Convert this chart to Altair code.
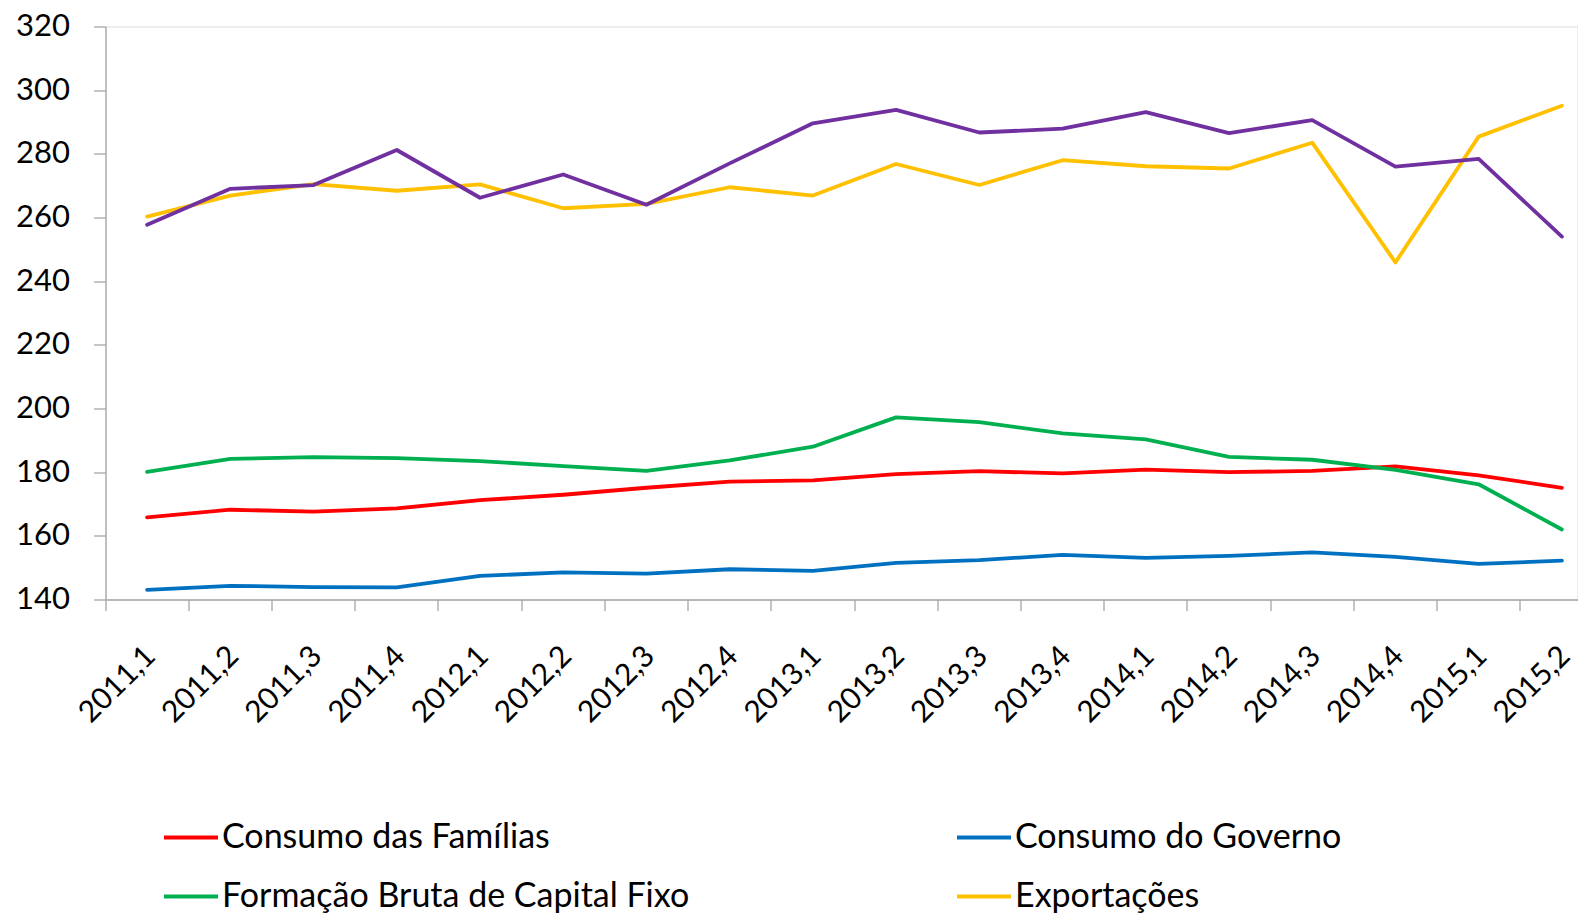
import altair as alt
import pandas as pd

quarters = ["2011,1", "2011,2", "2011,3", "2011,4", "2012,1", "2012,2", "2012,3", "2012,4",
            "2013,1", "2013,2", "2013,3", "2013,4", "2014,1", "2014,2", "2014,3", "2014,4",
            "2015,1", "2015,2"]

names = ["Consumo das Famílias", "Consumo do Governo", "Formação Bruta de Capital Fixo",
         "Exportações", "Importações"]
colors = ["#FF0000", "#0070C0", "#00B050", "#FFC000", "#7030A0"]

familias = [165.8, 168.2, 167.6, 168.6, 171.2, 172.9, 175.1, 177.0, 177.4, 179.4, 180.3, 179.6,
            180.8, 180.0, 180.4, 181.8, 179.0, 175.1]
governo = [143.0, 144.3, 143.9, 143.8, 147.4, 148.5, 148.1, 149.5, 149.0, 151.5, 152.4, 154.0,
           153.1, 153.7, 154.8, 153.4, 151.2, 152.2]
fbcf = [180.1, 184.2, 184.7, 184.4, 183.5, 181.9, 180.4, 183.7, 188.0, 197.2, 195.7, 192.2,
        190.3, 184.8, 183.9, 180.7, 176.2, 162.0]
exportacoes = [260.3, 266.9, 270.5, 268.4, 270.4, 262.9, 264.3, 269.5, 266.9, 276.8, 270.2, 278.0,
               276.1, 275.4, 283.5, 245.9, 285.4, 295.1]
importacoes = [257.7, 269.0, 270.2, 281.2, 266.2, 273.5, 264.0, 277.0, 289.6, 293.8, 286.7, 287.9,
               293.1, 286.5, 290.6, 276.0, 278.4, 254.0]

y_ticks = [140, 160, 180, 200, 220, 240, 260, 280, 300, 320]

series = [familias, governo, fbcf, exportacoes, importacoes]
rows = []
for name, vals in zip(names, series):
    for q, v in zip(quarters, vals):
        rows.append({"trimestre": q, "serie": name, "valor": v})
df = pd.DataFrame(rows)

# legend is laid out column by column: order so that rows read like the reference
legend_order = [0, 2, 4, 1, 3]
leg_names = [names[i] for i in legend_order]
leg_colors = [colors[i] for i in legend_order]

FONT = "Lato"
GRAY = "#A6A6A6"

chart = alt.Chart(df).mark_line(strokeWidth=3.8, strokeCap="round", strokeJoin="round").encode(
    x=alt.X("trimestre:N", sort=quarters,
            scale=alt.Scale(type="band", paddingInner=0, paddingOuter=0, range=[0, 1498]),
            axis=alt.Axis(title=None, bandPosition=0, labelAngle=-45, labelAlign="right",
                          labelBaseline="top", labelOffset=-7, labelPadding=30, tickSize=11,
                          tickColor=GRAY, domainColor=GRAY, tickWidth=1.3, domainWidth=1.3,
                          labelFont=FONT, labelFontSize=30, labelColor="black", grid=False,
                          labelOverlap=False)),
    y=alt.Y("valor:Q", scale=alt.Scale(domain=[140, 320], nice=False, zero=False),
            axis=alt.Axis(title=None, values=y_ticks, tickSize=12, labelPadding=24,
                          tickColor=GRAY, domainColor=GRAY, tickWidth=1.3, domainWidth=1.3,
                          labelFont=FONT, labelFontSize=31, labelColor="black", grid=False)),
    color=alt.Color("serie:N", sort=leg_names, scale=alt.Scale(domain=leg_names, range=leg_colors),
                    legend=alt.Legend(title=None, orient="none", legendX=56.5, legendY=782,
                                      columns=2, columnPadding=259, rowPadding=13,
                                      symbolType="stroke", symbolSize=2916, symbolStrokeWidth=3.8,
                                      labelFont=FONT, labelFontSize=34, labelColor="black",
                                      labelOffset=2, padding=0, labelLimit=800)),
    detail="serie:N",
).properties(
    width=1472, height=573,
    autosize=alt.AutoSizeParams(type="none"),
    padding={"left": 97.5, "top": 18.5, "right": 0, "bottom": 330},
).configure_view(stroke=None).configure(background="white")

chart.save("out.html", embed_options={"renderer": "svg", "actions": False})
